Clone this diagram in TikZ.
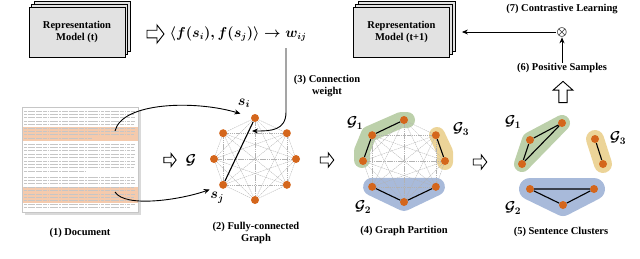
\documentclass[tikz,border=0pt]{standalone}
\usepackage{fontspec}
\setmainfont{Liberation Serif}
\usepackage{amsmath,bm}
\usetikzlibrary{arrows.meta,backgrounds,calc}
\definecolor{nodeor}{RGB}{212,102,28}
\definecolor{hl}{RGB}{245,202,172}
\definecolor{boxg}{RGB}{226,226,226}
\definecolor{grn}{RGB}{188,208,170}
\definecolor{yel}{RGB}{236,212,152}
\definecolor{blu}{RGB}{168,186,218}
\begin{document}
\begin{tikzpicture}[x=1pt,y=-1pt,
  font=\fontsize{10.5}{12}\selectfont\bfseries,
  vtx/.style={circle,fill=nodeor,inner sep=0pt,minimum size=8pt},
  gedge/.style={gray!60,line width=0.35pt,dash pattern=on 1.5pt off 0.7pt},
  bedge/.style={black,line width=1.1pt},
  layerbox/.style={draw=black,line width=0.8pt,fill=boxg},
  modelbox/.style={draw=black,line width=0.8pt,fill=boxg,minimum width=96pt,minimum height=50pt,align=center,inner sep=0pt},
  arr/.style={-{Stealth[length=6pt,width=5pt]},line width=0.9pt},
  lbl/.style={align=center,inner sep=0pt},
  mlbl/.style={inner sep=0pt,font=\fontsize{14}{14}\selectfont\boldmath},
  docline/.style={gray!45,line width=0.7pt,dash pattern=on 3pt off 0.7pt on 5pt off 0.7pt on 2pt off 0.7pt on 6pt off 0.7pt on 4pt off 0.7pt on 1.5pt off 0.7pt},
  harrow/.pic={\draw[fill=white,line width=0.9pt] (-8.5,-3.8) -- (1.5,-3.8) -- (1.5,-9) -- (8.5,0) -- (1.5,9) -- (1.5,3.8) -- (-8.5,3.8) -- cycle;}
]
\useasboundingbox (0,0) rectangle (640,258);

% ---------- Representation Model (t) ----------
\foreach \k in {2,1}{
  \draw[layerbox] (29+2.6*\k,7-3*\k) rectangle (125+2.6*\k,57-3*\k);
}
\node[modelbox] (m1) at (77,32) {Representation\\Model (t)};
\pic at (155.5,34) {harrow};
\node[inner sep=0pt,font=\fontsize{13.3}{14}\selectfont\boldmath] (form) at (238,34) {$\langle f(s_i), f(s_j)\rangle \rightarrow w_{ij}$};

% ---------- Representation Model (t+1) ----------
\foreach \k in {2,1}{
  \draw[layerbox] (353+2.6*\k,7-3*\k) rectangle (450+2.6*\k,57-3*\k);
}
\node[modelbox] (m2) at (401.5,32) {Representation\\Model (t+1)};
\node[lbl] (cl) at (562,9) {(7) Contrastive Learning};
\node[inner sep=0.5pt,font=\fontsize{12}{12}\selectfont\boldmath] (ot) at (562,32) {$\otimes$};
\node[lbl] (pos6) at (562,68) {(6) Positive Samples};
\draw[arr] (pos6) -- (ot);
\draw[arr,shorten >=12pt] (ot) -- (m2);
\pic[rotate=90,xscale=1.25,yscale=1.1] at (563,92) {harrow};

% ---------- Document ----------
\fill[gray!30] (25,110) rectangle (141,215);
\draw[gray!45,fill=white,line width=0.4pt] (22,107) rectangle (138,212);
\fill[hl] (22.5,126.5) rectangle (137.5,140.5);
\fill[hl] (22.5,186.5) rectangle (137.5,202.5);
\foreach \yy/\xe in {111/135,114.4/134,117.8/135,121.2/135,124.6/134,128/135,131.4/135,134.8/134,138.2/92,
  144/135,147.4/134,150.8/135,154.2/135,157.6/134,161/135,164.4/135,167.8/134,171.2/86,
  177/134,180.4/135,183.8/135,187.2/134,190.6/135,194/135,197.4/134,200.8/135,204.2/135,207.6/130}{
  \draw[docline] (24,\yy) -- (\xe,\yy);
}
\coordinate (d1) at (115,131);
\coordinate (d2) at (115,192);
\node[lbl] (doc) at (80,233) {(1) Document};
\pic[scale=0.72] at (170,160) {harrow};
\node[mlbl] (g) at (191,160) {$\mathcal{G}$};

% ---------- Graph (2) ----------
\foreach \n/\a in {1/90,2/141,3/180,4/219,5/270,6/321,7/0,8/39}{
  \node[vtx] (a\n) at ($(255,159)+(\a:41pt)$) {};
}
\node[mlbl] (si) at ($(a1)+(-11,-15)$) {$s_i$};
\node[mlbl] (sj) at ($(a4)+(-6,13)$) {$s_j$};
\node[lbl] (g2lbl) at (256,233) {(2) Fully-connected\\Graph};
\begin{scope}[on background layer]
\foreach \i in {1,...,7}{
  \pgfmathtruncatemacro\s{\i+1}
  \foreach \j in {\s,...,8}{ \draw[gedge] (a\i) -- (a\j); }
}
\end{scope}
\draw[bedge] (a1) -- (a4);
\draw[arr,shorten >=11pt] (d1) .. controls (122,102) and (195,100) .. (a1);
\draw[arr,shorten >=10pt] (d2) .. controls (125,208) and (180,200) .. (a4);
\coordinate (cwtop) at (286,48);
\coordinate (cwend) at (252,131);
\draw[arr] (cwtop) -- (286,112) .. controls (286,131) and (270,131) .. (cwend);
\node[lbl] (cw) at (327,86.5) {(3) Connection\\weight};
\pic[scale=0.8] at (327,160) {harrow};

% ---------- Graph Partition (4) ----------
\foreach \n/\a in {1/90,2/141,3/180,4/219,5/270,6/321,7/0,8/39}{
  \node[vtx] (b\n) at ($(404,161)+(\a:41pt)$) {};
}
\begin{scope}[on background layer]
\draw[grn,line width=16pt,line cap=round,line join=round] (407,120) -- (401,120) -- (369,134) -- (362,151) -- (362,160);
\draw[yel,line width=16pt,line cap=round,line join=round] (437,135) -- (445,152) -- (445,162);
\filldraw[blu,line width=18pt,line join=round] (b4.center) -- (b5.center) -- (b6.center) -- cycle;
\foreach \i in {1,...,7}{
  \pgfmathtruncatemacro\s{\i+1}
  \foreach \j in {\s,...,8}{ \draw[gedge] (b\i) -- (b\j); }
}
\end{scope}
\draw[bedge] (b1) -- (b2) -- (b3);
\draw[bedge] (b8) -- (b7);
\draw[bedge] (b4) -- (b5) -- (b6);
\node[mlbl] (pg1) at (355,123) {$\mathcal{G}_1$};
\node[mlbl] (pg3) at (461,129) {$\mathcal{G}_3$};
\node[mlbl] (pg2) at (363,207) {$\mathcal{G}_2$};
\node[lbl] (g4lbl) at (404,231) {(4) Graph Partition};
\pic[scale=0.8] at (480,162) {harrow};

% ---------- Sentence Clusters (5) ----------
\node[vtx] (c1) at (562,123) {};
\node[vtx] (c2) at (530,140) {};
\node[vtx] (c3) at (522,164) {};
\node[vtx] (c4) at (595,139) {};
\node[vtx] (c5) at (603,164) {};
\node[vtx] (c6) at (530,189) {};
\node[vtx] (c7) at (594,189) {};
\node[vtx] (c8) at (563,205) {};
\begin{scope}[on background layer]
\filldraw[grn,line width=16pt,line join=round] (c1.center) -- (c2.center) -- (c3.center) -- cycle;
\draw[yel,line width=18pt,line cap=round] (c4.center) -- (c5.center);
\filldraw[blu,line width=22pt,line join=round] (c6.center) -- (c7.center) -- (c8.center) -- cycle;
\end{scope}
\draw[bedge] (c1) -- (c2) -- (c3) -- (c1);
\draw[bedge] (c4) -- (c5);
\draw[bedge] (c6) -- (c7) -- (c8) -- (c6);
\node[mlbl] (cg1) at (513,122) {$\mathcal{G}_1$};
\node[mlbl] (cg3) at (618,138) {$\mathcal{G}_3$};
\node[mlbl] (cg2) at (513,208) {$\mathcal{G}_2$};
\node[lbl] (g5lbl) at (561,232) {(5) Sentence Clusters};
\end{tikzpicture}
\end{document}
